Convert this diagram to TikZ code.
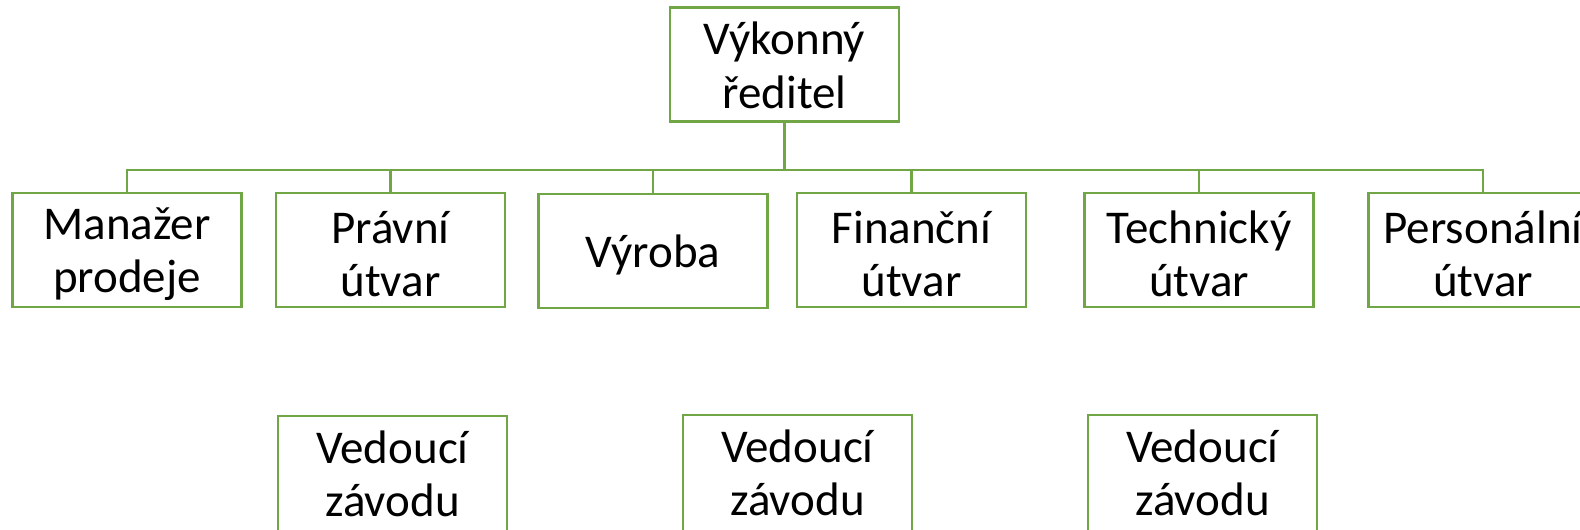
\documentclass[tikz,border=0pt]{standalone}
\usepackage{fontspec}
\setmainfont{Carlito}
\definecolor{orggreen}{RGB}{112,166,70}
\begin{document}
\begin{tikzpicture}[x=0.5pt,y=-0.5pt,
  orgbox/.style={draw=orggreen, line width=1.45pt, fill=white, rectangle,
    minimum width=114.5pt, minimum height=57pt, inner sep=0pt},
  boxtext/.style={inner sep=0pt, align=center,
    font=\fontsize{23.5}{26.8}\selectfont, text=black},
  link/.style={draw=orggreen, line width=1.45pt}]
\useasboundingbox (0,0) rectangle (1580,530);
\clip (0,0) rectangle (1580,530);
\fill[white] (0,0) rectangle (1580,530);
% boxes
\node[orgbox] (ceo) at (784.5,64.5) {};
\coordinate (bus) at (784.5,170);
\node[orgbox] (man) at (127,250) {};
\node[orgbox] (prav) at (390.5,250) {};
\node[orgbox] (vyr) at (653,251) {};
\node[orgbox] (fin) at (911.5,250) {};
\node[orgbox] (tech) at (1199,250) {};
\node[orgbox] (pers) at (1483,250) {};
\node[orgbox, minimum height=59pt] (v1) at (392.5,475) {};
\node[orgbox, minimum height=59pt] (v2) at (797.5,474) {};
\node[orgbox, minimum height=59pt] (v3) at (1202.5,474) {};
% texts
\node[boxtext] (tceo) at ([yshift=-0.5pt]ceo.center) {Výkonný\\ředitel};
\node[boxtext] (tman) at ([yshift=-2pt]man.center) {Manažer\\prodeje};
\node[boxtext] (tprav) at ([yshift=-2pt]prav.center) {Právní\\útvar};
\node[boxtext] (tvyr) at ([yshift=-2pt]vyr.center) {Výroba};
\node[boxtext] (tfin) at ([yshift=-2pt]fin.center) {Finanční\\útvar};
\node[boxtext] (ttech) at ([yshift=-2pt]tech.center) {Technický\\útvar};
\node[boxtext] (tpers) at ([yshift=-2pt]pers.center) {Personální\\útvar};
\node[boxtext] (tv1) at ([yshift=0.5pt]v1.center) {Vedoucí\\závodu};
\node[boxtext] (tv2) at ([yshift=0.5pt]v2.center) {Vedoucí\\závodu};
\node[boxtext] (tv3) at ([yshift=0.5pt]v3.center) {Vedoucí\\závodu};
% connectors
\draw[link] (ceo.south) -- (bus);
\foreach \c in {man,prav,vyr,fin,tech,pers}{
  \draw[link] (bus) -| (\c.north);
}
\end{tikzpicture}
\end{document}
